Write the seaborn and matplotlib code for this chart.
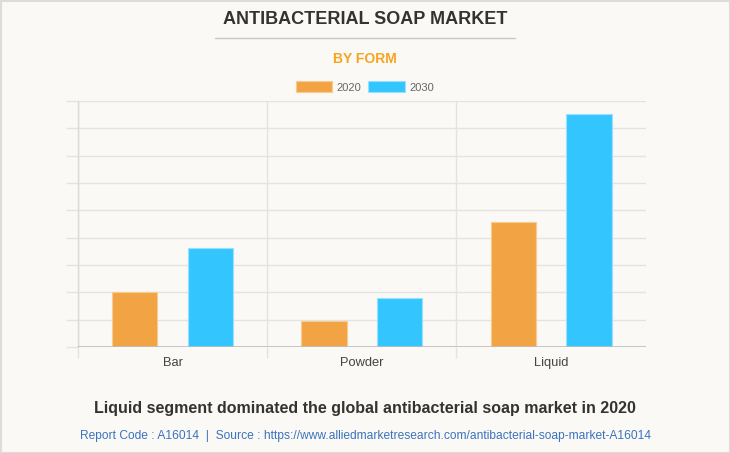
import numpy as np
import pandas as pd
import seaborn as sns
import matplotlib.pyplot as plt
from matplotlib.patches import Rectangle
from matplotlib.lines import Line2D

# data (no axis labels, grid step = 1 unit)
forms = ["Bar", "Powder", "Liquid"]
years = ["2020", "2030"]
val_2020 = [2.02, 0.96, 4.58]
val_2030 = [3.61, 1.79, 8.52]
colors = ["#F2A444", "#33C6FE"]
edges = ["#F8CB93", "#9ADFFF"]

df = pd.DataFrame({
    "form": forms * 2,
    "year": [years[0]] * 3 + [years[1]] * 3,
    "value": val_2020 + val_2030,
})

bg = "#FAF9F5"
grid_c = "#E4E3DF"

sns.set_theme(style="white")
plt.rcParams['font.family'] = ['Liberation Sans', 'DejaVu Sans']

fig = plt.figure(figsize=(7.3, 4.53), dpi=100, facecolor=bg)
ax = fig.add_axes([78 / 730, 1 - 347 / 453, (645.7 - 78) / 730, (347 - 101) / 453])
ax.set_facecolor(bg)

sns.barplot(data=df, x="form", y="value", hue="year", palette=colors, saturation=1,
            width=0.8, gap=0.4, ax=ax, legend=False, zorder=3)
for i, p in enumerate(ax.patches):
    p.set_edgecolor(edges[i // 3])
    p.set_linewidth(0.8)

ax.set_xlim(-0.5, 2.5)
ax.set_ylim(0, 9)
ax.set_yticks(range(10))
ax.set_yticklabels([])
ax.tick_params(axis="y", length=9, color=grid_c, width=1, left=True)
ax.yaxis.grid(True, color=grid_c, lw=1, zorder=0)
ax.set_xticks([-0.5, 0.5, 1.5], minor=True)
ax.tick_params(axis="x", which="minor", length=8, color=grid_c, width=1, bottom=True)
ax.tick_params(axis="x", which="major", length=0, pad=7, labelsize=9.3, labelcolor="#444444")
ax.xaxis.grid(True, which="minor", color=grid_c, lw=1, zorder=0)
ax.xaxis.grid(False, which="major")
ax.axhline(0, color="#BDBDBD", lw=1.2, zorder=4)
ax.plot([-0.5, -0.5], [0, 1], transform=ax.get_xaxis_transform(), color="#DADADA", lw=1, clip_on=False)
for s in ["top", "right", "bottom", "left"]:
    ax.spines[s].set_visible(False)
ax.set_xlabel("")
ax.set_ylabel("")

# legend
handles = [Rectangle((0, 0), 1, 1, facecolor=colors[k], edgecolor=edges[k], lw=0.8) for k in range(2)]
fig.legend(handles, years, loc="center", bbox_to_anchor=(0.5, 1 - 87 / 453), ncol=2,
           frameon=False, fontsize=8, labelcolor="#666666", handlelength=3.3,
           handleheight=1.1, handletextpad=0.4, columnspacing=0.6)

# titles
fig.text(0.5, 1 - 20 / 453, "ANTIBACTERIAL SOAP MARKET", ha="center", va="center",
         fontsize=13, fontweight="bold", color="#333333")
fig.add_artist(Line2D([215 / 730, 515 / 730], [1 - 37.7 / 453] * 2, color="#C8C8C8", lw=1))
fig.text(0.5, 1 - 59 / 453, "BY FORM", ha="center", va="center",
         fontsize=10, fontweight="bold", color="#F7A51E")
fig.text(0.5, 1 - 408 / 453, "Liquid segment dominated the global antibacterial soap market in 2020",
         ha="center", va="center", fontsize=11.5, fontweight="bold", color="#333333")
fig.text(0.5, 1 - 436 / 453,
         "Report Code : A16014  |  Source : https://www.alliedmarketresearch.com/antibacterial-soap-market-A16014",
         ha="center", va="center", fontsize=8.65, color="#3B73BE")

# frame around the image
fig.add_artist(Rectangle((0.5 / 730, 0.5 / 453), 1 - 1 / 730, 1 - 1 / 453, transform=fig.transFigure,
                         fill=False, edgecolor="#DCDCDC", lw=1.5))

fig.savefig("out.png", dpi=100, facecolor=bg)
